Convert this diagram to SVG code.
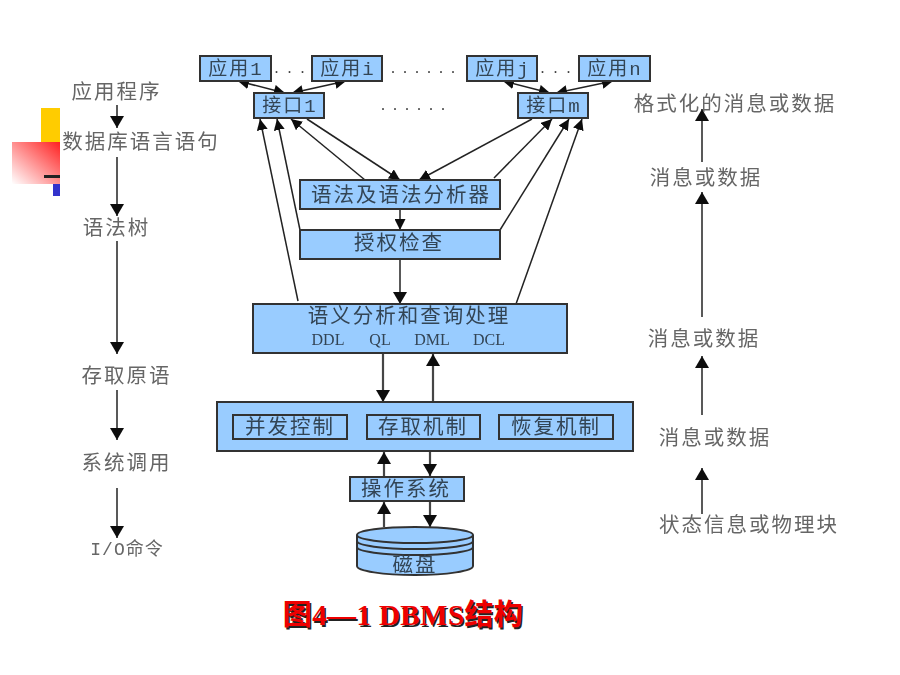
<svg xmlns="http://www.w3.org/2000/svg" width="900" height="675" viewBox="0 0 900 675">
<style>
text{font-family:"Noto Sans CJK SC","Liberation Serif",sans-serif;font-size:20.500px;fill:#666;text-anchor:middle;letter-spacing:2px}
.n{fill:#99ccff;stroke:#333;stroke-width:2}
.b text{fill:#345}
.in{fill:none;stroke:#333;stroke-width:2}
.c line{stroke:#222;stroke-width:1.500;fill:none}
.g line{stroke:#444;stroke-width:2.200}
.b text.m{font-family:"Liberation Mono","Noto Sans CJK SC",monospace;font-size:19px;letter-spacing:2px}
.b text.lat{font-family:"Liberation Serif",serif;font-size:16px;letter-spacing:0}
.dot{font-family:"Liberation Serif",serif;font-size:16px;letter-spacing:9px;fill:#444}
.dot6{letter-spacing:8px}
</style>
<defs>
<marker id="a" markerUnits="userSpaceOnUse" markerWidth="14" markerHeight="14" refX="12" refY="7" orient="auto"><path d="M0 0L12 7L0 14z" fill="#111"/></marker>
<marker id="t" markerUnits="userSpaceOnUse" markerWidth="12" markerHeight="11" refX="11" refY="5.500" orient="auto"><path d="M0 0L11 5.500L0 11z" fill="#111"/></marker>
<marker id="u" markerUnits="userSpaceOnUse" markerWidth="12" markerHeight="11" refX="0" refY="5.500" orient="auto"><path d="M11 0L0 5.500L11 11z" fill="#111"/></marker>
<linearGradient id="rg" x1="1" y1="0" x2="0" y2="1"><stop offset="0" stop-color="#ff2020"/><stop offset="1" stop-color="#fff"/></linearGradient>
<filter id="bl" x="-5%" y="-5%" width="110%" height="110%"><feGaussianBlur stdDeviation="0.400"/></filter>
</defs>
<rect width="900" height="675" fill="#fff"/>
<g id="decor">
<rect x="41" y="108" width="19" height="34" fill="#ffcc00"/>
<rect x="53" y="184" width="7" height="12" fill="#3333cc"/>
<rect x="12" y="142" width="48" height="42" fill="url(#rg)"/>
<rect x="44" y="175" width="16" height="3" fill="#222"/>
</g>
<g filter="url(#bl)">
<g id="connectors" class="c">
<line x1="117" y1="105" x2="117" y2="128" marker-end="url(#a)"/>
<line x1="117" y1="157" x2="117" y2="216" marker-end="url(#a)"/>
<line x1="117" y1="241" x2="117" y2="354" marker-end="url(#a)"/>
<line x1="117" y1="390" x2="117" y2="440" marker-end="url(#a)"/>
<line x1="117" y1="488" x2="117" y2="538" marker-end="url(#a)"/>
<line x1="702" y1="514" x2="702" y2="468" marker-end="url(#a)"/>
<line x1="702" y1="415" x2="702" y2="356" marker-end="url(#a)"/>
<line x1="702" y1="317" x2="702" y2="192" marker-end="url(#a)"/>
<line x1="702" y1="162" x2="702" y2="109" marker-end="url(#a)"/>
<line x1="285" y1="93" x2="238" y2="81" marker-start="url(#u)" marker-end="url(#t)"/>
<line x1="292" y1="93" x2="346" y2="81" marker-start="url(#u)" marker-end="url(#t)"/>
<line x1="550" y1="93" x2="503" y2="81" marker-start="url(#u)" marker-end="url(#t)"/>
<line x1="556" y1="93" x2="613" y2="81" marker-start="url(#u)" marker-end="url(#t)"/>
<line x1="298" y1="301" x2="260" y2="119" marker-end="url(#t)"/>
<line x1="300" y1="230" x2="277" y2="119" marker-end="url(#t)"/>
<line x1="365" y1="180" x2="291" y2="119" marker-end="url(#t)"/>
<line x1="307" y1="119" x2="400" y2="180" marker-end="url(#t)"/>
<line x1="532" y1="119" x2="419" y2="180" marker-end="url(#t)"/>
<line x1="494" y1="178" x2="552" y2="119" marker-end="url(#t)"/>
<line x1="500" y1="230" x2="569" y2="119" marker-end="url(#t)"/>
<line x1="516" y1="304" x2="582" y2="119" marker-end="url(#t)"/>
<line x1="400" y1="209" x2="400" y2="230" marker-end="url(#t)"/>
<line x1="400" y1="259" x2="400" y2="304" marker-end="url(#a)"/>
<g class="g">
<line x1="383" y1="353" x2="383" y2="402" marker-end="url(#a)"/>
<line x1="433" y1="402" x2="433" y2="354" marker-end="url(#a)"/>
<line x1="384" y1="477" x2="384" y2="452" marker-end="url(#a)"/>
<line x1="430" y1="451" x2="430" y2="476" marker-end="url(#a)"/>
<line x1="384" y1="527" x2="384" y2="502" marker-end="url(#a)"/>
<line x1="430" y1="501" x2="430" y2="527" marker-end="url(#a)"/>
</g>
</g>
<g class="b">
<g id="app1"><rect class="n" x="200" y="56" width="71" height="25"/><text x="236" y="75" class="m">应用1</text></g>
<g id="appi"><rect class="n" x="312" y="56" width="70" height="25"/><text x="348" y="75" class="m">应用i</text></g>
<g id="appj"><rect class="n" x="467" y="56" width="70" height="25"/><text x="503" y="75" class="m">应用j</text></g>
<g id="appn"><rect class="n" x="579" y="56" width="71" height="25"/><text x="615" y="75" class="m">应用n</text></g>
<g id="if1"><rect class="n" x="254" y="93" width="70" height="25"/><text x="290" y="112" class="m">接口1</text></g>
<g id="ifm"><rect class="n" x="518" y="93" width="70" height="25"/><text x="554" y="112" class="m">接口m</text></g>
<g id="parser"><rect class="n" x="300" y="180" width="200" height="29"/><text x="401" y="202">语法及语法分析器</text></g>
<g id="auth"><rect class="n" x="300" y="230" width="200" height="29"/><text x="399" y="250">授权检查</text></g>
<g id="semantic"><rect class="n" x="253" y="304" width="314" height="49"/><text x="409" y="323">语义分析和查询处理</text>
<text x="328" y="345" class="lat">DDL</text><text x="380" y="345" class="lat">QL</text><text x="432" y="345" class="lat">DML</text><text x="489" y="345" class="lat">DCL</text></g>
<g id="storage"><rect class="n" x="217" y="402" width="416" height="49"/>
<rect class="in" x="233" y="415" width="114" height="24"/><text x="290" y="434">并发控制</text>
<rect class="in" x="367" y="415" width="113" height="24"/><text x="423" y="434">存取机制</text>
<rect class="in" x="499" y="415" width="114" height="24"/><text x="556" y="434">恢复机制</text></g>
<g id="os"><rect class="n" x="350" y="477" width="114" height="24"/><text x="406" y="496">操作系统</text></g>
<g id="disk"><path class="n" d="M357 535A58 8 0 0 1 473 535V566A58 9 0 0 1 357 566Z"/>
<path class="in" d="M357 535A58 8 0 0 0 473 535M357 541A58 8 0 0 0 473 541M357 547A58 8 0 0 0 473 547"/><text x="415" y="572">磁盘</text></g>
</g>
<g id="labels">
<text x="116.500" y="99">应用程序</text>
<text x="141" y="149">数据库语言语句</text>
<text x="116.500" y="235">语法树</text>
<text x="126.500" y="383">存取原语</text>
<text x="126.500" y="470">系统调用</text>
<text x="127" y="555" style="font-family:'Liberation Mono','Noto Sans CJK SC',monospace;font-size:18px;letter-spacing:1px">I/O命令</text>
<text x="735" y="111">格式化的消息或数据</text>
<text x="706" y="185">消息或数据</text>
<text x="704" y="346">消息或数据</text>
<text x="715" y="445">消息或数据</text>
<text x="749" y="532">状态信息或物理块</text>
<text x="294" y="73" class="dot">...</text>
<text x="427" y="73" class="dot dot6">......</text>
<text x="560" y="73" class="dot">...</text>
<text x="417" y="110" class="dot dot6">......</text>
</g>
</g>
<g id="title" style="font-family:'Liberation Serif','Noto Sans CJK SC',serif">
<text x="403" y="625" style="font-family:inherit;font-size:29px;font-weight:bold;fill:#222;letter-spacing:.4px" transform="translate(1.500 1.500)">图4—1 DBMS结构</text>
<text x="403" y="625" style="font-family:inherit;font-size:29px;font-weight:bold;fill:#ee0000;letter-spacing:.4px">图4—1 DBMS结构</text></g>
</svg>
